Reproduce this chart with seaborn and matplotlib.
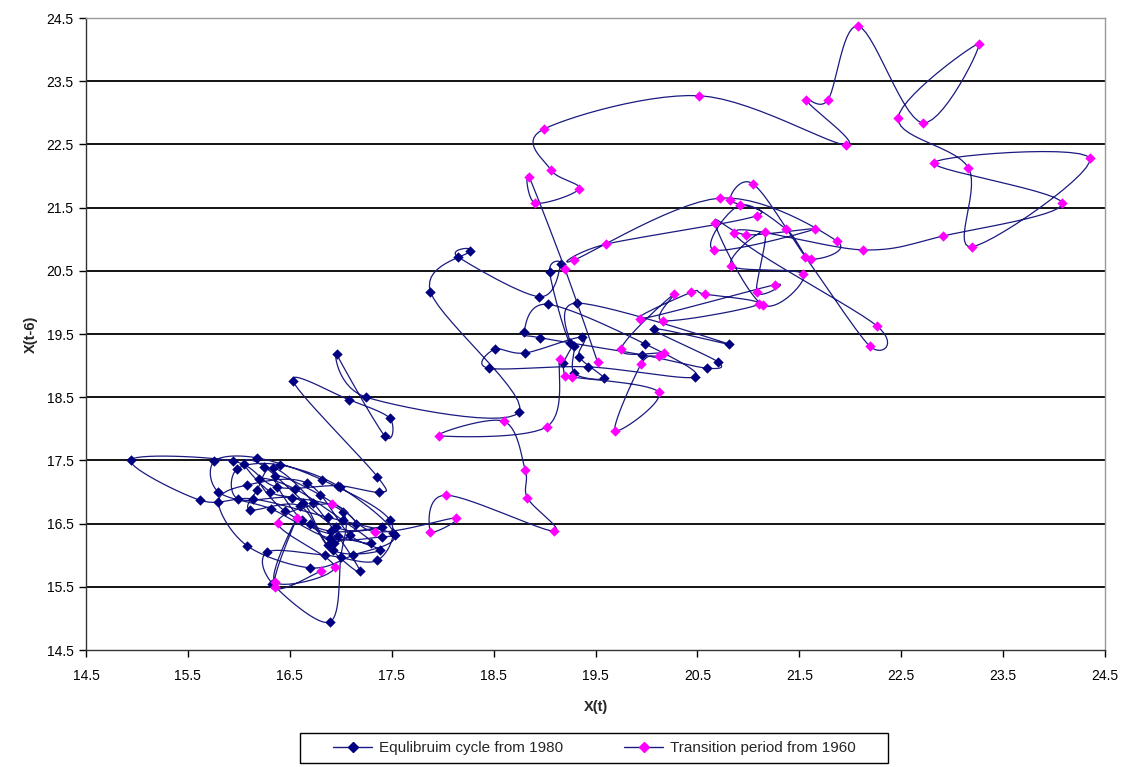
import numpy as np
import pandas as pd
import matplotlib
matplotlib.use("Agg")
import matplotlib.pyplot as plt
from matplotlib.lines import Line2D
from matplotlib.patches import Rectangle
from matplotlib import font_manager
import seaborn as sns

# ---------------- data ----------------
trans_x = [16.81, 16.35, 16.57, 16.35, 16.94, 16.38, 16.91, 17.34, 18.13, 17.88,
           18.03, 19.09, 18.83, 18.81, 18.60, 17.96, 19.02, 19.15, 19.20, 19.27,
           20.12, 19.69, 19.95, 20.12, 20.17, 19.75, 20.27, 20.16, 21.10, 20.57,
           20.44, 19.94, 21.26, 21.08, 21.16, 20.83, 21.54, 21.14, 20.67, 20.98,
           21.65, 20.66, 20.92, 21.37, 21.61, 21.87, 20.72, 19.29, 19.60, 21.08,
           20.82, 21.05, 21.56, 22.19, 22.26, 20.86, 22.13, 22.91, 24.08, 22.82,
           24.35, 23.19, 23.16, 22.47, 23.26, 22.71, 22.08, 21.78, 21.57, 21.96,
           20.52, 18.99, 19.06, 19.34, 18.91, 18.85, 19.20, 19.52]
trans_y = [15.75, 15.50, 16.59, 15.58, 15.81, 16.51, 16.81, 16.37, 16.59, 16.37,
           16.95, 16.38, 16.91, 17.35, 18.12, 17.89, 18.03, 19.10, 18.84, 18.82,
           18.58, 17.97, 19.03, 19.15, 19.20, 19.26, 20.13, 19.71, 19.97, 20.13,
           20.16, 19.74, 20.28, 20.16, 21.11, 20.58, 20.45, 19.96, 21.26, 21.07,
           21.16, 20.83, 21.54, 21.16, 20.69, 20.97, 21.65, 20.67, 20.92, 21.37,
           21.62, 21.87, 20.72, 19.31, 19.63, 21.10, 20.83, 21.05, 21.57, 22.21,
           22.28, 20.88, 22.13, 22.92, 24.09, 22.84, 24.37, 23.20, 23.20, 22.49,
           23.27, 22.74, 22.10, 21.80, 21.57, 21.98, 20.53, 19.06]

equil_x = [19.18, 19.29, 19.29, 19.58, 19.34, 19.37, 18.81, 18.51, 18.45, 19.43,
           20.48, 19.99, 19.03, 18.80, 18.96, 19.96, 20.59, 20.70, 20.07, 20.81,
           19.32, 19.25, 19.05, 19.16, 18.95, 18.15, 18.27, 17.88, 18.75, 17.25,
           16.96, 17.43, 17.48, 17.08, 16.53, 17.36, 17.38,
           16.97, 16.37, 15.94, 14.94, 15.62, 16.14, 16.87, 17.51, 17.40, 16.89,
           16.32, 15.80, 15.76, 16.18, 16.82, 17.48, 17.36, 16.85, 16.28, 16.33,
           16.89, 17.00, 17.02, 16.52, 15.99, 15.98, 16.40, 16.99, 17.53, 17.12,
           16.70, 16.08, 15.80, 16.08, 16.67, 17.09, 17.39, 16.92, 16.60, 16.11,
           16.18, 16.34, 16.73, 17.19, 16.87, 16.63, 16.31, 16.05, 16.25, 16.95,
           17.40, 16.90, 16.45, 16.20, 16.55, 17.02, 17.30, 16.97, 16.62, 16.35,
           16.80, 17.15, 16.93, 16.70]
equil_y = [19.04, 19.31, 18.88, 18.80, 19.14, 19.45, 19.20, 19.26, 18.96, 18.98,
           18.82, 19.34, 19.97, 19.53, 19.44, 19.17, 18.96, 19.06, 19.58, 19.34,
           19.99, 19.36, 20.48, 20.61, 20.09, 20.72, 20.81, 20.17, 18.27, 18.50,
           19.18, 17.89, 18.17, 18.46, 18.76, 17.24, 17.00,
           17.10, 17.08, 17.49, 17.51, 16.87, 16.89, 16.60, 16.35, 16.29, 16.27,
           16.73, 17.00, 17.49, 17.54, 17.19, 16.56, 15.92, 16.00, 16.05, 15.55,
           14.94, 15.97, 16.68, 16.91, 16.89, 17.36, 17.43, 17.08, 16.32, 16.00,
           15.80, 16.15, 16.84, 17.11, 17.14, 16.32, 16.08, 16.08, 16.78, 16.72,
           17.03, 17.38, 16.83, 15.75, 16.16, 16.83, 17.00, 17.45, 17.40, 16.45,
           16.45, 16.38, 16.70, 17.20, 17.05, 16.55, 16.20, 16.30, 16.55, 17.25,
           16.95, 16.50, 16.20, 16.50]

tick_vals = [14.5, 15.5, 16.5, 17.5, 18.5, 19.5, 20.5, 21.5, 22.5, 23.5, 24.5]
label_equil = "Equlibruim cycle from 1980"
label_trans = "Transition period from 1960"
x_label = "X(t)"
y_label = "X(t-6)"

# ---------------- helpers ----------------
def smooth(xs, ys, steps=14):
    """Excel-like smoothed line (Bezier through points, Catmull-Rom tangents)."""
    p = np.column_stack([xs, ys]).astype(float)
    n = len(p)
    out = [p[0]]
    t = np.linspace(0, 1, steps + 1)[1:]
    for i in range(n - 1):
        p0 = p[i - 1] if i > 0 else p[i]
        p1 = p[i]
        p2 = p[i + 1]
        p3 = p[i + 2] if i + 2 < n else p[i + 1]
        c1 = p1 + (p2 - p0) / 6.0
        c2 = p2 - (p3 - p1) / 6.0
        for tt in t:
            b = ((1 - tt) ** 3) * p1 + 3 * ((1 - tt) ** 2) * tt * c1 \
                + 3 * (1 - tt) * tt ** 2 * c2 + tt ** 3 * p2
            out.append(b)
    out = np.array(out)
    return pd.DataFrame({"x": out[:, 0], "y": out[:, 1], "o": np.arange(len(out))})

# ---------------- style ----------------
sns.set_theme(style="white")
avail = {f.name for f in font_manager.fontManager.ttflist}
fam = ["Liberation Sans Narrow"] if "Liberation Sans Narrow" in avail else []
plt.rcParams["font.family"] = fam + ["Liberation Sans", "DejaVu Sans"]

NAVY = "#000080"
LINE = "#1a1a80"
MAG = "#FF00FF"

W, H = 1127, 767
fig = plt.figure(figsize=(W / 100, H / 100), dpi=100)
ax = fig.add_axes([86 / W, 1 - 650 / H, (1105 - 86) / W, (650 - 18) / H])

for yv in tick_vals[1:-1]:
    ax.axhline(yv, color="black", lw=1.3, zorder=0)

# equilibrium series
df_e = smooth(equil_x, equil_y)
sns.lineplot(data=df_e, x="x", y="y", sort=False, estimator=None, color=LINE,
             lw=0.9, ax=ax, zorder=2)
sns.scatterplot(x=equil_x, y=equil_y, marker="D", s=28, color=NAVY,
                edgecolor=NAVY, linewidth=0, ax=ax, zorder=3)

# transition series
df_t = smooth(trans_x, trans_y)
sns.lineplot(data=df_t, x="x", y="y", sort=False, estimator=None, color=LINE,
             lw=0.9, ax=ax, zorder=4)
sns.scatterplot(x=trans_x, y=trans_y, marker="D", s=28, color=MAG,
                edgecolor=MAG, linewidth=0, ax=ax, zorder=5)

ax.set_xlim(14.5, 24.5)
ax.set_ylim(14.5, 24.5)
ax.set_xticks(tick_vals)
ax.set_yticks(tick_vals)
ax.set_xticklabels([f"{v:.1f}" for v in tick_vals])
ax.set_yticklabels([f"{v:.1f}" for v in tick_vals])
ax.tick_params(axis="both", which="major", direction="out", length=5, width=1,
               color="black", labelsize=10, labelcolor="black", pad=4)
ax.tick_params(axis="x", pad=9)
ax.tick_params(bottom=True, left=True)
for s in ["left", "bottom"]:
    ax.spines[s].set_color("#333333")
    ax.spines[s].set_linewidth(1.0)
for s in ["right", "top"]:
    ax.spines[s].set_color("#999999")
    ax.spines[s].set_linewidth(1.0)

ax.set_xlabel(x_label, fontsize=10.5, fontweight="bold", labelpad=12)
ax.set_ylabel(y_label, fontsize=10.5, fontweight="bold", labelpad=6)

# legend: frame drawn as a figure rectangle, entries centred inside it
box_l, box_r, box_t, box_b = 300, 888, 733, 763
fig.patches.append(Rectangle((box_l / W, 1 - box_b / H), (box_r - box_l) / W,
                             (box_b - box_t) / H, transform=fig.transFigure,
                             fill=True, facecolor="white", edgecolor="black",
                             lw=1.0, zorder=1))
handles = [
    Line2D([0], [0], color=LINE, lw=1, marker="D", markersize=5,
           markerfacecolor=NAVY, markeredgecolor=NAVY),
    Line2D([0], [0], color=LINE, lw=1, marker="D", markersize=5,
           markerfacecolor=MAG, markeredgecolor=MAG),
]
leg = fig.legend(handles, [label_equil, label_trans], ncol=2,
                 loc="center", bbox_to_anchor=((box_l + box_r) / 2 / W, 1 - (box_t + box_b) / 2 / H),
                 frameon=False, fontsize=11, handlelength=2.6, columnspacing=4.0,
                 borderpad=0.2, handletextpad=0.4)
leg.set_zorder(2)

fig.savefig("out.png", dpi=100)
